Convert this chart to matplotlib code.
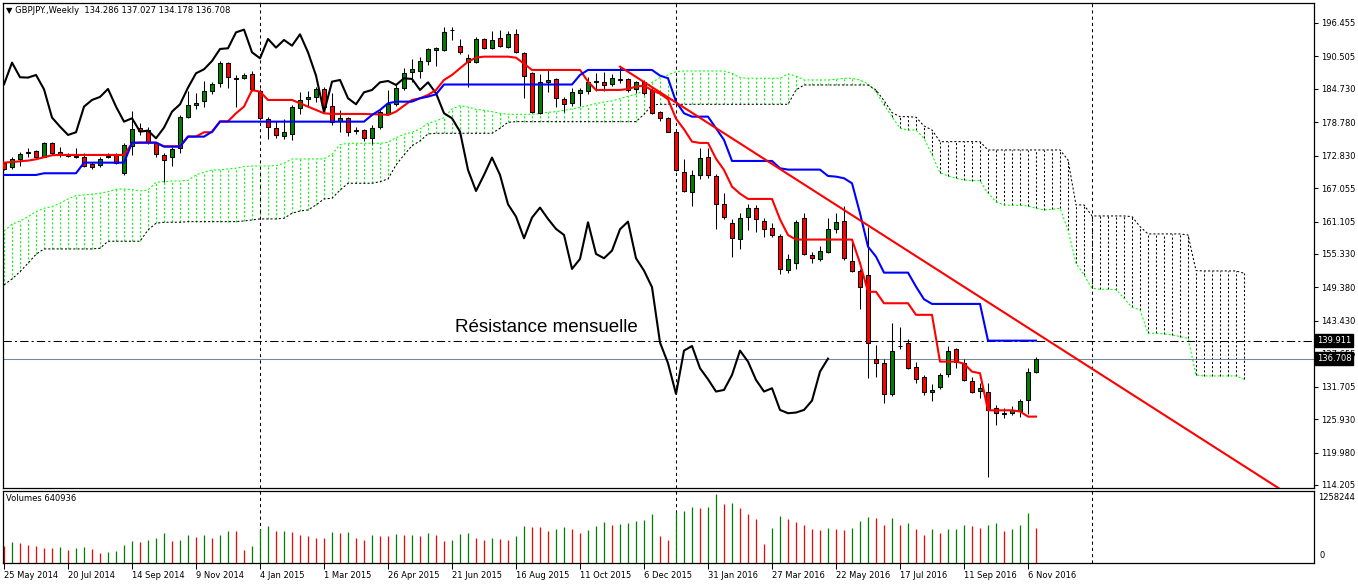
import numpy as np
import matplotlib
matplotlib.use("Agg")
import matplotlib.pyplot as plt
import matplotlib.transforms as mtransforms

# GBPJPY weekly, one candle per week starting 25 May 2014
opens = [171.60, 170.77, 172.19, 173.26, 173.67, 172.66, 175.16, 173.55, 172.84, 172.84,
         172.55, 171.36, 171.12, 172.55, 172.90, 169.82, 174.56, 177.71, 177.41, 175.04,
         172.96, 172.55, 174.15, 179.78, 181.80, 182.63, 184.29, 185.72, 189.28, 186.55,
         186.73, 187.32, 184.35, 179.37, 177.71, 176.34, 176.64, 181.27, 182.93, 183.34,
         184.71, 181.74, 179.01, 179.49, 177.41, 177.41, 175.93, 178.00, 180.32, 181.98,
         184.83, 187.68, 187.91, 189.69, 191.65, 191.65, 195.15, 192.42, 189.46, 189.46,
         193.61, 191.95, 193.73, 192.24, 194.44, 191.06, 187.50, 180.38, 185.89, 186.43,
         182.93, 182.16, 183.94, 184.35, 185.89, 185.89, 185.54, 186.25, 186.49, 184.71,
         186.01, 184.53, 180.67, 179.49, 177.11, 169.99, 166.43, 169.40, 172.66, 169.28,
         164.18, 160.80, 158.01, 161.99, 163.59, 161.21, 159.91, 158.60, 152.49, 153.68,
         161.69, 155.10, 154.39, 155.75, 159.73, 161.27, 154.09, 152.37, 151.60, 136.59,
         136.00, 130.42, 138.90, 139.44, 135.17, 133.39, 130.72, 131.61, 133.98, 138.37,
         136.00, 132.79, 131.01, 130.84, 127.99, 126.86, 127.10, 127.45, 129.35, 134.286]
highs = [171.72, 172.55, 173.55, 174.15, 173.85, 175.33, 175.33, 174.44, 173.38, 174.15,
         173.38, 171.77, 172.55, 173.38, 173.26, 175.04, 180.85, 178.72, 178.00, 175.33,
         173.26, 174.44, 180.02, 184.41, 184.06, 186.19, 186.01, 189.75, 189.51, 187.20,
         187.62, 187.91, 184.71, 179.78, 179.01, 179.37, 181.86, 184.12, 184.35, 185.12,
         185.12, 183.94, 180.97, 179.78, 178.00, 177.59, 178.30, 180.97, 184.53, 185.42,
         188.51, 190.05, 190.46, 192.07, 192.18, 195.80, 195.80, 193.61, 190.88, 194.02,
         193.73, 195.03, 195.21, 195.03, 195.39, 191.23, 187.79, 187.32, 188.09, 186.61,
         183.34, 184.83, 184.83, 186.90, 187.50, 187.67, 187.32, 188.68, 186.73, 186.13,
         186.31, 184.83, 180.79, 179.78, 177.23, 172.25, 170.29, 174.15, 174.15, 169.52,
         166.14, 161.57, 162.58, 164.18, 164.06, 161.81, 160.80, 158.84, 155.28, 161.39,
         162.70, 155.75, 156.76, 161.69, 162.58, 163.88, 157.95, 152.61, 160.20, 139.14,
         136.59, 143.12, 142.40, 140.15, 136.17, 133.80, 132.20, 134.10, 138.96, 138.55,
         136.59, 133.39, 132.44, 132.32, 128.46, 127.87, 128.28, 129.47, 134.99, 137.027]
lows = [170.29, 170.41, 171.00, 172.66, 172.37, 172.55, 172.96, 172.66, 172.55, 172.37,
        170.88, 170.47, 170.88, 172.49, 171.36, 169.40, 172.96, 176.52, 174.92, 172.66,
        168.15, 171.00, 173.38, 179.61, 181.09, 181.45, 183.82, 185.00, 184.95, 181.56,
        186.55, 184.41, 179.19, 175.75, 176.05, 175.81, 175.63, 180.20, 181.50, 182.34,
        180.67, 178.30, 177.11, 176.40, 176.64, 175.45, 174.86, 177.59, 180.08, 181.74,
        184.53, 186.01, 186.73, 188.98, 188.86, 191.47, 193.37, 190.88, 185.12, 189.28,
        191.83, 191.83, 192.24, 192.07, 191.06, 183.17, 180.38, 180.20, 184.11, 181.56,
        180.67, 181.74, 181.74, 183.76, 184.35, 184.35, 185.30, 185.72, 184.23, 183.94,
        183.64, 180.20, 179.01, 176.99, 170.11, 166.32, 163.94, 168.69, 168.93, 159.79,
        161.57, 154.86, 156.23, 159.61, 159.20, 158.42, 158.42, 151.72, 151.90, 152.61,
        155.16, 153.68, 154.15, 155.46, 159.14, 154.27, 152.19, 145.49, 133.21, 133.39,
        128.76, 130.06, 138.37, 134.81, 132.32, 130.24, 129.23, 131.25, 133.39, 134.99,
        132.79, 130.66, 129.65, 115.71, 124.90, 126.09, 126.68, 126.39, 126.86, 134.178]
closes = [170.41, 172.19, 173.14, 173.55, 172.66, 175.04, 173.26, 173.08, 173.02, 172.55,
          171.06, 170.88, 172.19, 172.84, 171.48, 174.68, 177.53, 177.29, 175.27, 173.14,
          172.07, 173.97, 179.78, 181.80, 182.16, 184.41, 185.54, 189.40, 186.79, 186.73,
          187.20, 184.65, 179.61, 178.00, 176.52, 177.00, 181.56, 182.75, 183.29, 184.71,
          181.56, 178.89, 179.49, 177.11, 177.29, 175.93, 177.83, 180.67, 181.98, 184.95,
          187.50, 188.21, 189.69, 191.83, 191.95, 194.79, 195.27, 191.23, 190.17, 193.61,
          192.07, 193.43, 192.42, 194.44, 191.23, 187.08, 180.56, 186.01, 186.31, 183.05,
          181.98, 184.11, 184.53, 185.89, 186.13, 185.42, 186.61, 186.49, 184.53, 185.89,
          183.94, 180.38, 179.49, 177.11, 170.29, 166.55, 169.40, 172.49, 169.40, 164.18,
          161.99, 158.13, 161.81, 163.59, 161.57, 159.79, 158.72, 152.67, 154.45, 160.97,
          155.34, 154.57, 155.93, 159.73, 161.09, 154.57, 152.37, 149.41, 139.56, 135.88,
          130.42, 138.13, 138.95, 134.99, 133.03, 130.84, 131.13, 133.80, 138.13, 136.17,
          132.91, 130.84, 131.43, 127.57, 126.98, 127.10, 127.57, 129.23, 134.39, 136.708]

# tick volume, thousands
volumes_k = [315, 377, 371, 333, 302, 277, 275, 283, 239, 277,
             289, 258, 189, 208, 226, 333, 396, 377, 415, 465,
             541, 409, 415, 503, 472, 503, 453, 503, 585, 579,
             239, 315, 616, 679, 585, 591, 566, 503, 491, 465,
             459, 566, 554, 566, 453, 428, 503, 491, 484, 522,
             503, 510, 491, 541, 503, 409, 428, 522, 541, 465,
             428, 465, 440, 428, 491, 679, 654, 648, 585, 616,
             654, 616, 541, 598, 679, 755, 698, 717, 723, 774,
             793, 887, 491, 415, 931, 944, 1013, 994, 1013, 1258.244,
             1069, 1088, 994, 899, 805, 352, 635, 862, 805, 755,
             692, 616, 610, 635, 616, 610, 635, 767, 843, 824,
             692, 824, 692, 730, 616, 503, 616, 541, 616, 623,
             692, 673, 635, 692, 730, 579, 616, 692, 918, 640.936]

# Ichimoku lines
tenkan = [171.59, 171.71, 171.84, 171.95, 172.19, 172.55, 172.91, 172.96, 172.96, 172.96,
          172.96, 172.96, 172.96, 172.96, 172.96, 172.96, 175.04, 175.15, 175.15, 175.15,
          174.50, 174.50, 174.50, 176.25, 176.25, 177.00, 177.00, 178.95, 178.95, 180.38,
          181.57, 184.50, 184.23, 182.75, 182.75, 182.75, 182.75, 182.16, 181.56, 180.97,
          180.38, 180.26, 180.26, 180.26, 180.26, 180.26, 180.20, 180.20, 180.08, 180.67,
          181.74, 182.75, 183.05, 183.64, 184.53, 186.31, 187.20, 188.39, 189.57, 190.28,
          190.46, 190.46, 190.46, 190.46, 190.28, 189.20, 188.09, 188.09, 188.09, 188.09,
          188.09, 188.09, 188.09, 186.01, 184.53, 184.53, 184.53, 184.53, 184.70, 185.12,
          185.30, 184.47, 183.87, 182.87, 179.42, 177.53, 175.33, 175.10, 175.10, 172.30,
          170.29, 167.32, 166.07, 165.13, 165.13, 165.13, 165.13, 161.50, 158.70, 157.90,
          157.90, 157.90, 157.90, 157.90, 157.90, 157.90, 157.90, 153.70, 148.60, 148.60,
          146.56, 146.56, 146.56, 146.56, 144.50, 144.50, 144.50, 136.17, 136.17, 136.17,
          135.80, 134.39, 134.10, 127.50, 127.50, 127.50, 127.50, 127.30, 126.38, 126.38]
kijun = [169.40, 169.40, 169.40, 169.40, 169.40, 169.70, 169.70, 169.70, 169.70, 169.70,
         171.59, 171.59, 171.59, 171.59, 171.59, 171.59, 175.15, 175.15, 175.15, 175.15,
         174.44, 174.44, 174.44, 176.22, 176.22, 176.22, 177.11, 178.89, 178.89, 178.89,
         178.89, 178.89, 178.89, 178.89, 178.89, 178.89, 178.89, 178.89, 178.89, 178.89,
         178.89, 178.89, 178.89, 178.89, 178.89, 178.89, 180.08, 180.97, 182.16, 182.45,
         182.45, 182.45, 183.05, 183.34, 183.76, 185.50, 185.50, 185.50, 185.50, 185.50,
         185.50, 185.50, 185.50, 185.50, 185.50, 185.50, 185.50, 185.50, 185.50, 185.50,
         185.50, 185.50, 187.20, 188.09, 188.09, 188.09, 188.09, 188.09, 188.09, 188.09,
         188.09, 188.09, 187.08, 186.61, 182.45, 180.38, 179.78, 179.78, 179.78, 177.71,
         175.63, 171.89, 171.89, 171.89, 171.89, 171.89, 171.89, 170.59, 170.35, 170.35,
         170.35, 170.35, 170.35, 169.22, 169.10, 168.81, 167.92, 162.58, 156.64, 154.86,
         152.01, 152.01, 152.01, 152.01, 149.52, 147.27, 146.44, 146.44, 146.44, 146.44,
         146.44, 146.44, 146.44, 139.90, 139.90, 139.90, 139.90, 139.90, 139.90, 139.90]
# senkou spans, already at their plotted bar (26 weeks ahead)
senkou_a = [159.43, 160.62, 161.21, 161.98, 162.87, 163.47, 163.76, 164.36, 165.13, 165.72,
            165.84, 165.97, 166.14, 166.43, 166.85, 166.91, 166.79, 166.55, 166.73, 168.10,
            168.20, 168.33, 168.33, 168.45, 169.40, 169.88, 170.29, 170.29, 170.47, 170.59,
            170.88, 171.00, 171.00, 171.00, 171.06, 171.48, 172.25, 172.25, 172.25, 172.25,
            172.25, 173.08, 174.80, 175.04, 175.04, 175.04, 175.04, 175.04, 175.21, 176.04,
            176.64, 177.00, 177.59, 178.60, 179.01, 179.60, 181.15, 181.74, 181.50, 181.09,
            180.91, 180.67, 180.38, 180.20, 180.20, 180.20, 180.20, 180.32, 180.56, 180.67,
            180.91, 181.15, 181.45, 181.74, 182.10, 182.39, 182.57, 182.98, 183.41, 183.76,
            184.47, 185.90, 186.72, 187.20, 187.79, 187.91, 187.91, 187.91, 187.91, 187.91,
            187.91, 187.50, 186.72, 186.61, 186.61, 186.61, 186.61, 186.61, 187.40, 187.02,
            186.31, 186.31, 186.31, 186.31, 186.43, 186.61, 186.61, 186.31, 185.60, 184.23,
            181.86, 179.78, 177.71, 177.41, 177.41, 175.93, 172.96, 169.81, 169.22, 168.81,
            168.51, 168.39, 168.39, 166.14, 164.65, 164.06, 164.00, 164.00, 163.88, 163.47,
            163.17, 163.29, 163.47, 159.61, 153.68, 151.60, 149.23, 149.05, 149.05, 149.00,
            147.45, 145.85, 145.37, 141.22, 141.22, 141.10, 140.92, 140.62, 140.33, 133.80,
            133.62, 133.62, 133.62, 133.62, 133.62, 133.03]
senkou_b = [149.82, 150.89, 152.19, 153.68, 155.28, 156.23, 156.23, 156.23, 156.23, 156.23,
            156.23, 156.23, 156.35, 157.60, 157.60, 157.60, 157.60, 157.60, 159.61, 160.80,
            160.98, 160.98, 160.98, 161.09, 161.09, 161.09, 161.09, 161.09, 161.09, 161.09,
            161.21, 161.39, 161.57, 161.57, 161.57, 161.69, 162.58, 162.99, 163.17, 164.06,
            165.13, 165.25, 166.70, 167.92, 167.92, 167.92, 167.92, 168.20, 168.69, 171.18,
            172.96, 174.62, 175.45, 176.70, 176.82, 176.82, 176.82, 176.82, 176.82, 176.82,
            176.82, 176.82, 177.71, 178.78, 178.89, 178.89, 178.89, 178.89, 178.89, 178.89,
            178.89, 178.89, 178.89, 178.89, 178.89, 178.89, 178.89, 178.89, 178.89, 178.89,
            180.20, 181.86, 181.98, 181.98, 181.98, 181.98, 181.98, 181.98, 181.98, 181.98,
            181.98, 181.98, 181.98, 181.98, 181.98, 181.98, 181.98, 181.98, 181.98, 184.53,
            185.42, 185.42, 185.42, 185.42, 185.42, 185.42, 185.42, 185.42, 185.42, 184.53,
            182.63, 180.49, 179.78, 179.78, 179.67, 178.12, 177.41, 175.33, 175.33, 175.33,
            175.33, 175.33, 175.33, 173.85, 173.85, 173.85, 173.85, 173.85, 173.85, 173.85,
            173.85, 173.85, 173.85, 172.07, 164.06, 164.06, 162.10, 162.10, 162.10, 162.10,
            162.10, 161.98, 160.20, 158.90, 158.90, 158.90, 158.90, 158.90, 158.72, 152.37,
            152.31, 152.31, 152.31, 152.31, 152.31, 151.90]

date_labels = ['25 May 2014', '20 Jul 2014', '14 Sep 2014', '9 Nov 2014', '4 Jan 2015',
               '1 Mar 2015', '26 Apr 2015', '21 Jun 2015', '16 Aug 2015', '11 Oct 2015',
               '6 Dec 2015', '31 Jan 2016', '27 Mar 2016', '22 May 2016', '17 Jul 2016',
               '11 Sep 2016', '6 Nov 2016']
label_step = 8
year_starts = [32, 84, 136]
price_ticks = [196.455, 190.505, 184.730, 178.780, 172.830, 167.055, 161.105, 155.330,
               149.380, 143.430, 137.655, 131.705, 125.930, 119.980, 114.205]
resistance = 139.911
trend_x = [77, 159.3]
trend_y = [188.68, 113.67]
chikou_shift = 26
vol_top = 1258244

GREEN = '#008000'
RED = '#ff0000'
LIME = '#00ff00'

plt.rcParams['font.family'] = ['DejaVu Sans']

W, H = 1358, 584
fig = plt.figure(figsize=(W / 100, H / 100), dpi=100)


def px_box(x0, y0, x1, y1):
    return [x0 / W, 1 - y1 / H, (x1 - x0) / W, (y1 - y0) / H]


ax = fig.add_axes(px_box(2.5, 2.5, 1314, 488))
axv = fig.add_axes(px_box(2.5, 491, 1314, 563), sharex=ax)

o, h, l, c = (np.array(v) for v in (opens, highs, lows, closes))
idx = np.arange(len(c))

# kumo: dotted hatch at each bar + span lines
a = np.array(senkou_a)
b = np.array(senkou_b)
sx = np.arange(len(a))
hatch_col = [LIME if a[i] > b[i] else 'black' for i in range(len(a))]
ax.vlines(sx, np.minimum(a, b), np.maximum(a, b), colors=hatch_col,
          linestyles=(0, (2, 2)), lw=0.75, zorder=1)
ax.plot(sx, a, color=LIME, ls=(0, (2, 2)), lw=0.75, zorder=1.5)
ax.plot(sx, b, color='black', ls=(0, (2, 2)), lw=0.75, zorder=1.5)

# year separators
for x in year_starts:
    ax.axvline(x, color='black', lw=0.75, ls=(0, (3, 3)), zorder=1)
    axv.axvline(x, color='black', lw=0.75, ls=(0, (3, 3)), zorder=1)

# horizontal levels
ax.axhline(resistance, color='black', lw=0.75, ls=(0, (8, 3, 2, 3)), zorder=2)
ax.axhline(c[-1], color='#778899', lw=0.75, zorder=2)
ax.text(56.4, 142.3, 'Résistance mensuelle', fontsize=13.5, family='Liberation Sans',
        va='center', ha='left', zorder=6)

# candles
ax.vlines(idx, l, h, color='black', lw=0.75, zorder=3)
body = np.maximum(np.abs(c - o), 0.12)
ax.bar(idx, body, bottom=np.minimum(o, c), width=0.62,
       color=np.where(c >= o, GREEN, RED), edgecolor='black', linewidth=0.75, zorder=3.1)

# ichimoku lines
ax.plot(idx[:-chikou_shift], c[chikou_shift:], color='black', lw=1.5, zorder=4)
ax.plot(idx, tenkan, color=RED, lw=1.5, zorder=4.1)
ax.plot(idx, kijun, color='#0000ff', lw=1.5, zorder=4.2)

# trend line
ax.plot(trend_x, trend_y, color=RED, lw=1.5, zorder=5)

ax.set_xlim(-0.19, 163.75)
ax.set_ylim(113.67, 200.1)
ax.yaxis.tick_right()
ax.set_yticks(price_ticks)
ax.set_yticklabels([f'{v:.3f}' for v in price_ticks])
ax.tick_params(axis='y', direction='out', length=3, width=0.75, labelsize=6, pad=2)
ax.tick_params(axis='x', bottom=False, labelbottom=False)

trans = mtransforms.blended_transform_factory(ax.transAxes, ax.transData)
for val in (resistance, c[-1]):
    ax.text(1.0022, val, f'{val:.3f}', transform=trans, fontsize=6, color='white',
            va='center', ha='left', zorder=10, clip_on=False,
            bbox=dict(boxstyle='square,pad=0.2', fc='black', ec='black'))

ax.text(0.003, 0.983, '▼ GBPJPY.,Weekly  ' + ' '.join(f'{v:.3f}' for v in (o[-1], h[-1], l[-1], c[-1])),
        transform=ax.transAxes, fontsize=6, va='center', ha='left')

# volumes
vol = np.array(volumes_k) * 1000
vcol = [RED] + [GREEN if vol[i] > vol[i - 1] else RED for i in range(1, len(vol))]
axv.vlines(idx, 0, vol, colors=vcol, lw=0.9)
axv.set_ylim(0, vol_top * 72 / 69)
axv.set_yticks([])
axv.text(0.003, 0.9, f'Volumes {int(round(vol[-1]))}', transform=axv.transAxes,
         fontsize=6, va='center', ha='left')
axv.text(1.003, 0.915, f'{vol_top}', transform=axv.transAxes, fontsize=6,
         va='center', ha='left')
axv.text(1.004, 0.1, '0', transform=axv.transAxes, fontsize=6, va='center', ha='left')

axv.set_xticks(idx[::label_step][:len(date_labels)])
axv.set_xticklabels(date_labels, ha='left')
axv.tick_params(axis='x', direction='out', length=4, width=0.75, labelsize=6, pad=2)

for axis in (ax, axv):
    for sp in axis.spines.values():
        sp.set_linewidth(0.9)
        sp.set_color('black')

fig.savefig('out.png', dpi=100)
